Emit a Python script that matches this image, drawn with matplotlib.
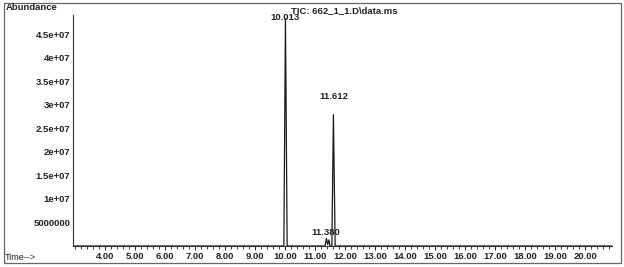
import matplotlib
matplotlib.use("Agg")
import matplotlib.pyplot as plt
from matplotlib.patches import Rectangle
from matplotlib.ticker import FixedLocator, MultipleLocator

plt.rcParams['font.family'] = ['Liberation Sans', 'DejaVu Sans']

# Chromatogram trace (retention time in min, abundance)
time_min = [2.93, 9.96, 10.013, 10.07, 11.33, 11.38, 11.42, 11.46, 11.50, 11.56, 11.612, 11.67, 20.9]
abundance = [0, 0, 4.83e7, 0, 0, 1.6e6, 0.3e6, 1.3e6, 0, 0, 2.79e7, 0, 0]

# Peak labels
peak_labels = ["10.013", "11.612", "11.380"]
peak_label_x = [10.013, 11.612, 11.35]
peak_label_y = [4.86e7, 3.17e7, 2.8e6]

x_ticks = [4, 5, 6, 7, 8, 9, 10, 11, 12, 13, 14, 15, 16, 17, 18, 19, 20]
x_tick_labels = ["4.00", "5.00", "6.00", "7.00", "8.00", "9.00", "10.00", "11.00", "12.00",
                 "13.00", "14.00", "15.00", "16.00", "17.00", "18.00", "19.00", "20.00"]
y_ticks = [5e6, 1e7, 1.5e7, 2e7, 2.5e7, 3e7, 3.5e7, 4e7, 4.5e7]
y_tick_labels = ["5000000", "1e+07", "1.5e+07", "2e+07", "2.5e+07", "3e+07", "3.5e+07", "4e+07", "4.5e+07"]

fig = plt.figure(figsize=(6.24, 2.67), dpi=100)
ax = fig.add_axes([73/624, 1-246/267, (612-73)/624, (246-15)/267])

ax.plot(time_min, abundance, color='#1a1a1a', lw=0.9)
ax.set_xlim(2.93, 20.9)
ax.set_ylim(0, 4.91e7)

for lab, lx, ly in zip(peak_labels, peak_label_x, peak_label_y):
    ax.text(lx, ly, lab, ha='center', va='center', fontsize=6.8, fontweight='bold', color='#222222')

ax.xaxis.set_major_locator(FixedLocator(x_ticks))
ax.set_xticklabels(x_tick_labels)
ax.xaxis.set_minor_locator(MultipleLocator(0.2))
ax.yaxis.set_major_locator(FixedLocator(y_ticks))
ax.set_yticklabels(y_tick_labels)

ax.tick_params(axis='x', which='major', direction='out', length=3, width=0.7, pad=1,
               labelsize=6.8, colors='#222222')
ax.tick_params(axis='x', which='minor', direction='out', length=1.8, width=0.6, colors='#222222')
ax.tick_params(axis='y', which='major', length=0, pad=2, labelsize=6.8, colors='#222222')
for lbl in ax.get_xticklabels() + ax.get_yticklabels():
    lbl.set_fontweight('bold')

for s in ['top', 'right']:
    ax.spines[s].set_visible(False)
for s in ['left', 'bottom']:
    ax.spines[s].set_color('#333333')
    ax.spines[s].set_linewidth(0.8)

# outer frame
fig.patches.append(Rectangle((4/624, 1-263/267), (621-4)/624, (263-3)/267,
                             transform=fig.transFigure, fill=False, edgecolor='#666666', lw=0.9))

fig.text(6/624, 1-7/267, "Abundance", ha='left', va='center', fontsize=6.8, fontweight='bold', color='#222222')
fig.text(5/624, 1-258/267, "Time-->", ha='left', va='center', fontsize=6.5, color='#222222')
fig.text(291/624, 1-11/267, "TIC: 662_1_1.D\\data.ms", ha='left', va='center', fontsize=6.8,
         fontweight='bold', color='#222222')

fig.savefig("out.png", dpi=100, facecolor='white')
